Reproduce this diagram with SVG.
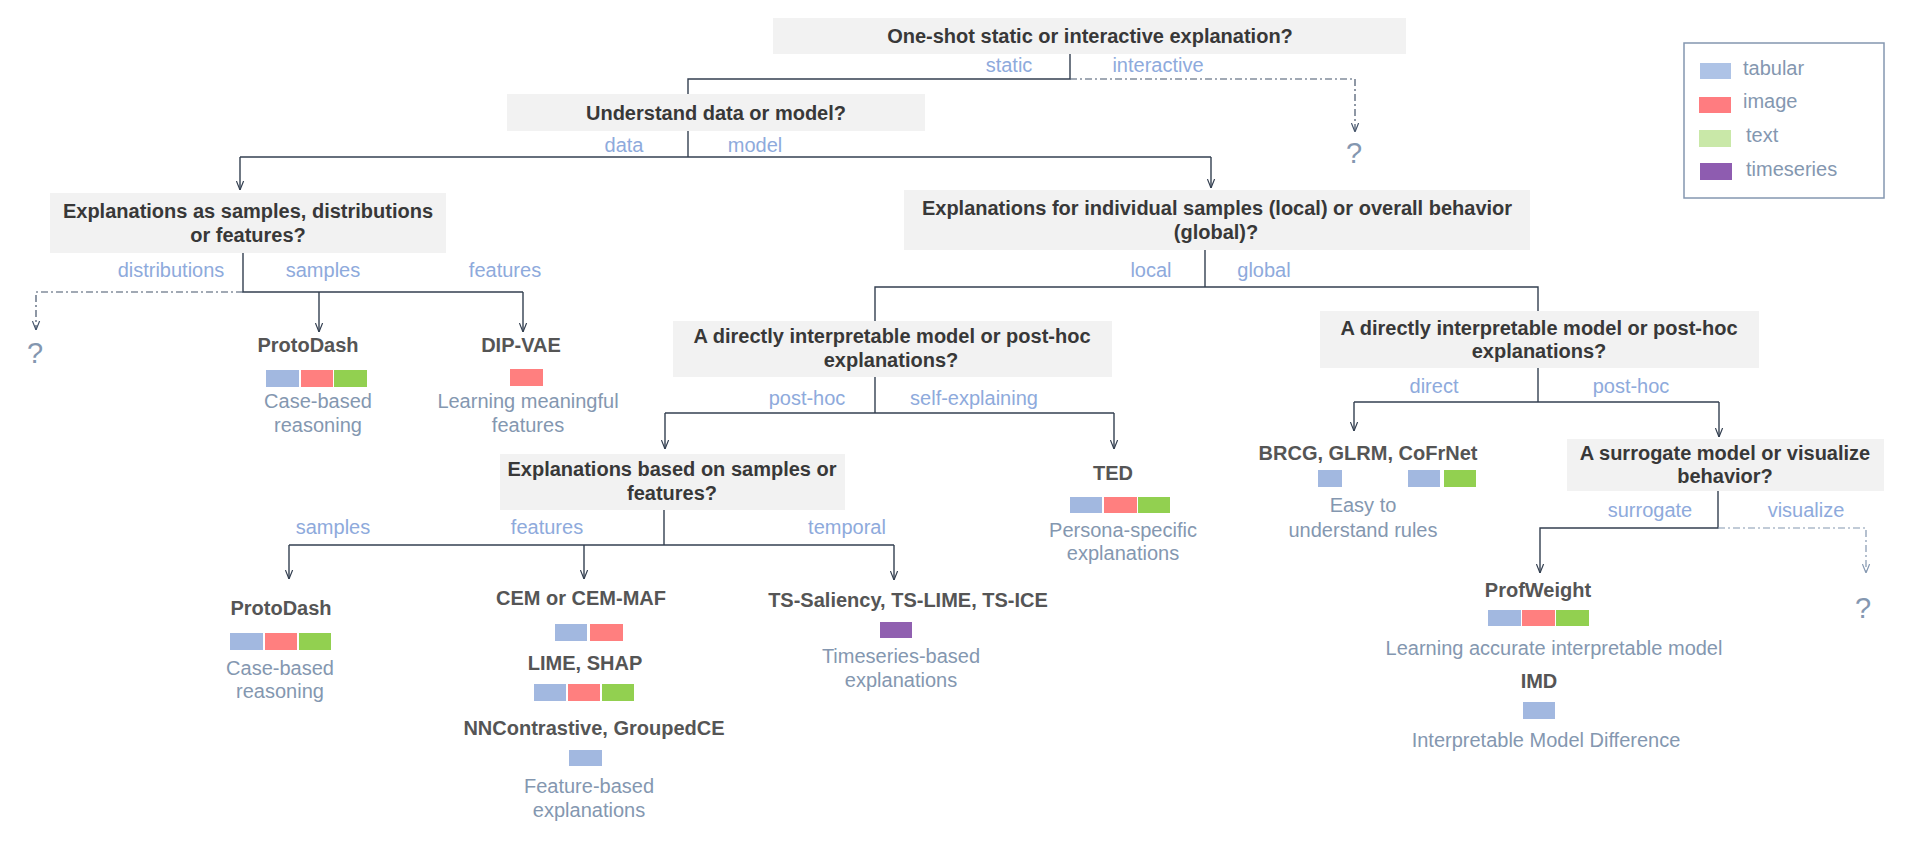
<svg xmlns="http://www.w3.org/2000/svg" width="1920" height="863" viewBox="0 0 1920 863">
<defs>
<style>
.box{fill:#f2f2f2}
.q{font-family:"Liberation Sans",Arial,sans-serif;font-size:20px;font-weight:bold;fill:#383838;text-anchor:middle}
.m{font-family:"Liberation Sans",Arial,sans-serif;font-size:20px;font-weight:bold;fill:#555555;text-anchor:middle}
.e{font-family:"Liberation Sans",Arial,sans-serif;font-size:20px;fill:#8eaadc;text-anchor:middle}
.d{font-family:"Liberation Sans",Arial,sans-serif;font-size:20px;fill:#8497b0;text-anchor:middle}
.lg{font-family:"Liberation Sans",Arial,sans-serif;font-size:20px;fill:#8497b0}
.qm{font-family:"Liberation Sans",Arial,sans-serif;font-size:29px;fill:#8497b0;text-anchor:middle}
.ln{fill:none;stroke:#333f50;stroke-width:1.4}
.dl{fill:none;stroke:#44546a;stroke-width:1.2;stroke-dasharray:7 3 2 3}
.dl2{fill:none;stroke:#8497b0;stroke-width:1.2;stroke-dasharray:7 3 2 3}
.tb{fill:#a2b8e0}.im{fill:#ff7f7f}.tx{fill:#92d050}.ts{fill:#9060b0}
</style>
<marker id="ar" viewBox="0 0 10 10" refX="10" refY="5" markerWidth="9" markerHeight="9" markerUnits="userSpaceOnUse" orient="auto">
<path d="M0,1 L10,5 L0,9" fill="none" stroke="#333f50" stroke-width="1.3"/>
</marker>
<marker id="ard" viewBox="0 0 10 10" refX="10" refY="5" markerWidth="9" markerHeight="9" markerUnits="userSpaceOnUse" orient="auto">
<path d="M0,1 L10,5 L0,9" fill="none" stroke="#44546a" stroke-width="1.3"/>
</marker>
<marker id="ard2" viewBox="0 0 10 10" refX="10" refY="5" markerWidth="9" markerHeight="9" markerUnits="userSpaceOnUse" orient="auto">
<path d="M0,1 L10,5 L0,9" fill="none" stroke="#8497b0" stroke-width="1.3"/>
</marker>
</defs>
<rect width="1920" height="863" fill="#ffffff"/>

<g id="connectors">
<path class="ln" d="M1070,54 V79 H688 V94"/>
<path class="dl" d="M1070,79 H1355 V132" marker-end="url(#ard)"/>
<path class="ln" d="M688,131 V157"/>
<path class="ln" d="M240,157 H1211"/>
<path class="ln" d="M240,157 V190" marker-end="url(#ar)"/>
<path class="ln" d="M1211,157 V188" marker-end="url(#ar)"/>
<path class="ln" d="M243,253 V292 H523"/>
<path class="dl" d="M243,292 H36 V330" marker-end="url(#ard)"/>
<path class="ln" d="M319,292 V332" marker-end="url(#ar)"/>
<path class="ln" d="M523,292 V332" marker-end="url(#ar)"/>
<path class="ln" d="M1205,250 V287"/>
<path class="ln" d="M875,321 V287 H1538 V311"/>
<path class="ln" d="M875,377 V413"/>
<path class="ln" d="M665,413 H1114"/>
<path class="ln" d="M665,413 V449" marker-end="url(#ar)"/>
<path class="ln" d="M1114,413 V449" marker-end="url(#ar)"/>
<path class="ln" d="M1538,368 V402"/>
<path class="ln" d="M1354,402 H1719"/>
<path class="ln" d="M1354,402 V431" marker-end="url(#ar)"/>
<path class="ln" d="M1719,402 V437" marker-end="url(#ar)"/>
<path class="ln" d="M1718,491 V528 H1540 V573" marker-end="url(#ar)"/>
<path class="dl2" d="M1718,528 H1866 V573" marker-end="url(#ard2)"/>
<path class="ln" d="M664,510 V545"/>
<path class="ln" d="M289,545 H894"/>
<path class="ln" d="M289,545 V579" marker-end="url(#ar)"/>
<path class="ln" d="M584,545 V579" marker-end="url(#ar)"/>
<path class="ln" d="M894,545 V580" marker-end="url(#ar)"/>
</g>

<g id="edge-labels">
<text class="e" x="1009" y="72">static</text>
<text class="e" x="1158" y="72">interactive</text>
<text class="e" x="624" y="152">data</text>
<text class="e" x="755" y="152">model</text>
<text class="e" x="171" y="277">distributions</text>
<text class="e" x="323" y="277">samples</text>
<text class="e" x="505" y="277">features</text>
<text class="e" x="1151" y="277">local</text>
<text class="e" x="1264" y="277">global</text>
<text class="e" x="807" y="405">post-hoc</text>
<text class="e" x="974" y="405">self-explaining</text>
<text class="e" x="1434" y="393">direct</text>
<text class="e" x="1631" y="393">post-hoc</text>
<text class="e" x="1650" y="517">surrogate</text>
<text class="e" x="1806" y="517">visualize</text>
<text class="e" x="333" y="534">samples</text>
<text class="e" x="547" y="534">features</text>
<text class="e" x="847" y="534">temporal</text>
</g>

<g id="q-static">
<rect class="box" x="773" y="18" width="633" height="36"/>
<text class="q" x="1090" y="43">One-shot static or interactive explanation?</text>
</g>
<g id="q-unknown-interactive"><text class="qm" x="1354" y="163">?</text></g>
<g id="q-data-model">
<rect class="box" x="507" y="94" width="418" height="37"/>
<text class="q" x="716" y="120">Understand data or model?</text>
</g>
<g id="q-samples-dist">
<rect class="box" x="50" y="193" width="396" height="60"/>
<text class="q" x="248" y="218">Explanations as samples, distributions</text>
<text class="q" x="248" y="242">or features?</text>
</g>
<g id="q-unknown-dist"><text class="qm" x="35" y="363">?</text></g>
<g id="protodash-1">
<text class="m" x="308" y="352">ProtoDash</text>
<rect class="tb" x="266" y="370" width="33" height="17"/>
<rect class="im" x="301" y="370" width="32" height="17"/>
<rect class="tx" x="334" y="370" width="33" height="17"/>
<text class="d" x="318" y="408">Case-based</text>
<text class="d" x="318" y="432">reasoning</text>
</g>
<g id="dipvae">
<text class="m" x="521" y="352">DIP-VAE</text>
<rect class="im" x="510" y="369" width="33" height="17"/>
<text class="d" x="528" y="408">Learning meaningful</text>
<text class="d" x="528" y="432">features</text>
</g>
<g id="q-local-global">
<rect class="box" x="904" y="190" width="626" height="60"/>
<text class="q" x="1217" y="215">Explanations for individual samples (local) or overall behavior</text>
<text class="q" x="1216" y="239">(global)?</text>
</g>
<g id="q-direct-local">
<rect class="box" x="673" y="321" width="439" height="56"/>
<text class="q" x="892" y="343">A directly interpretable model or post-hoc</text>
<text class="q" x="891" y="367">explanations?</text>
</g>
<g id="q-direct-global">
<rect class="box" x="1320" y="311" width="439" height="57"/>
<text class="q" x="1539" y="335">A directly interpretable model or post-hoc</text>
<text class="q" x="1539" y="358">explanations?</text>
</g>
<g id="brcg">
<text class="m" x="1368" y="460">BRCG, GLRM, CoFrNet</text>
<rect class="tb" x="1318" y="470" width="24" height="17"/>
<rect class="tb" x="1408" y="470" width="32" height="17"/>
<rect class="tx" x="1444" y="470" width="32" height="17"/>
<text class="d" x="1363" y="512">Easy to</text>
<text class="d" x="1363" y="537">understand rules</text>
</g>
<g id="q-surrogate">
<rect class="box" x="1567" y="439" width="317" height="52"/>
<text class="q" x="1725" y="460">A surrogate model or visualize</text>
<text class="q" x="1725" y="483">behavior?</text>
</g>
<g id="profweight">
<text class="m" x="1538" y="597">ProfWeight</text>
<rect class="tb" x="1488" y="610" width="33" height="16"/>
<rect class="im" x="1522" y="610" width="33" height="16"/>
<rect class="tx" x="1556" y="610" width="33" height="16"/>
<text class="d" x="1554" y="655">Learning accurate interpretable model</text>
</g>
<g id="imd">
<text class="m" x="1539" y="688">IMD</text>
<rect class="tb" x="1523" y="702" width="32" height="17"/>
<text class="d" x="1546" y="747">Interpretable Model Difference</text>
</g>
<g id="q-unknown-visualize"><text class="qm" x="1863" y="618">?</text></g>
<g id="q-samples-features">
<rect class="box" x="500" y="454" width="345" height="56"/>
<text class="q" x="672" y="476">Explanations based on samples or</text>
<text class="q" x="672" y="500">features?</text>
</g>
<g id="protodash-2">
<text class="m" x="281" y="615">ProtoDash</text>
<rect class="tb" x="230" y="633" width="33" height="17"/>
<rect class="im" x="265" y="633" width="32" height="17"/>
<rect class="tx" x="299" y="633" width="32" height="17"/>
<text class="d" x="280" y="675">Case-based</text>
<text class="d" x="280" y="698">reasoning</text>
</g>
<g id="feature-methods">
<text class="m" x="581" y="605">CEM or CEM-MAF</text>
<rect class="tb" x="555" y="624" width="32" height="17"/>
<rect class="im" x="590" y="624" width="33" height="17"/>
<text class="m" x="585" y="670">LIME, SHAP</text>
<rect class="tb" x="534" y="684" width="32" height="17"/>
<rect class="im" x="568" y="684" width="32" height="17"/>
<rect class="tx" x="602" y="684" width="32" height="17"/>
<text class="m" x="594" y="735">NNContrastive, GroupedCE</text>
<rect class="tb" x="569" y="750" width="33" height="16"/>
<text class="d" x="589" y="793">Feature-based</text>
<text class="d" x="589" y="817">explanations</text>
</g>
<g id="ted">
<text class="m" x="1113" y="480">TED</text>
<rect class="tb" x="1070" y="497" width="32" height="16"/>
<rect class="im" x="1104" y="497" width="33" height="16"/>
<rect class="tx" x="1138" y="497" width="32" height="16"/>
<text class="d" x="1123" y="537">Persona-specific</text>
<text class="d" x="1123" y="560">explanations</text>
</g>
<g id="ts-methods">
<text class="m" x="908" y="607">TS-Saliency, TS-LIME, TS-ICE</text>
<rect class="ts" x="880" y="622" width="32" height="16"/>
<text class="d" x="901" y="663">Timeseries-based</text>
<text class="d" x="901" y="687">explanations</text>
</g>
<g id="legend">
<rect x="1684" y="43" width="200" height="155" fill="#ffffff" stroke="#8497b0" stroke-width="1.5"/>
<rect x="1700" y="63" width="31" height="16" fill="#aec3e6"/>
<rect x="1699" y="97" width="32" height="16" fill="#ff7c80"/>
<rect x="1699" y="130" width="32" height="17" fill="#c9e8a8"/>
<rect x="1700" y="163" width="32" height="17" fill="#8e5cb0"/>
<text class="lg" x="1743" y="75">tabular</text>
<text class="lg" x="1743" y="108">image</text>
<text class="lg" x="1746" y="142">text</text>
<text class="lg" x="1746" y="176">timeseries</text>
</g>
</svg>
